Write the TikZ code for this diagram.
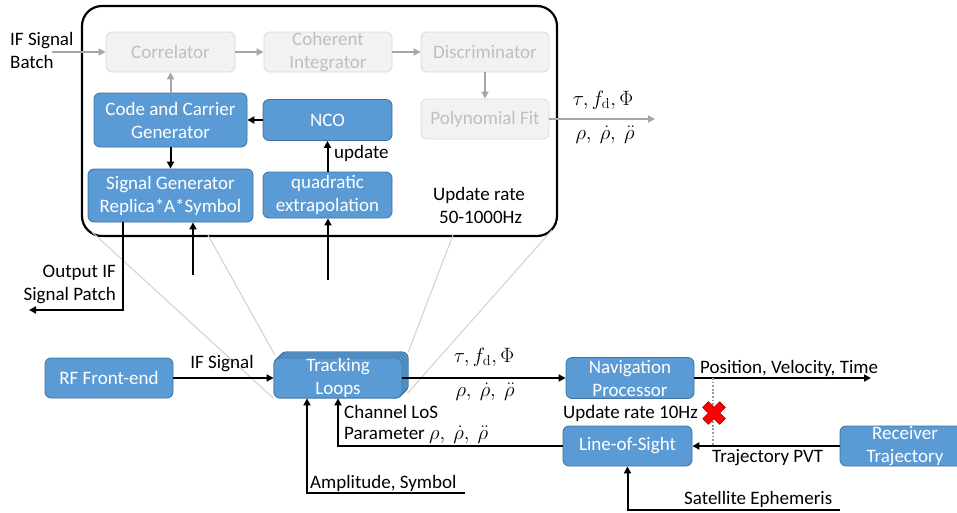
\documentclass[tikz,border=0pt]{standalone}
\usepackage[no-math]{fontspec}
\setmainfont{Carlito}
\usetikzlibrary{arrows.meta,calc}

\definecolor{boxblue}{HTML}{5B9BD5}
\definecolor{boxedge}{HTML}{41719C}
\definecolor{fadefill}{HTML}{F2F2F2}
\definecolor{fadeedge}{HTML}{D9D9D9}
\definecolor{fadetext}{HTML}{BFBFBF}
\definecolor{fadearrow}{HTML}{A6A6A6}
\definecolor{zoomline}{HTML}{D0D0D0}
\definecolor{dotgray}{HTML}{9A9A9A}
\definecolor{crossred}{HTML}{FF0000}
\definecolor{crossedge}{HTML}{8B0000}

\newcommand{\mathsz}{\fontsize{20.74}{24}\selectfont}

\tikzset{
  blk/.style={draw=boxedge, fill=boxblue, text=white, rounded corners=6pt,
    line width=0.8pt, inner sep=0pt, align=center},
  fadeblk/.style={draw=fadeedge, fill=fadefill, text=fadetext, rounded corners=6pt,
    line width=0.8pt, inner sep=0pt, align=center},
  barrow/.style={line width=2pt, draw=black, -{Triangle[length=7pt,width=7pt]}},
  garrow/.style={line width=2pt, draw=fadearrow, -{Triangle[length=7pt,width=7pt]}},
  zoomln/.style={line width=1pt, draw=zoomline},
  lbl/.style={inner sep=0pt, align=left},
  mathlbl/.style={inner sep=0pt, font=\mathsz},
}

\begin{document}
\begin{tikzpicture}[x=1pt, y=-1pt, font=\fontsize{19}{23}\selectfont]
\useasboundingbox (0,0) rectangle (957,512);

% frame of the tracking-loop detail
\node[draw=black, line width=2.2pt, rounded corners=20pt, inner sep=0pt,
      minimum width=475pt, minimum height=230pt] (detail) at (319.5,121) {};

% tracking loop stack (several channels)
\node[blk, minimum width=128pt, minimum height=40pt] (trk3) at (344,372) {};
\node[blk, minimum width=128pt, minimum height=40pt] (trk2) at (342,374) {};
\node[blk, minimum width=128pt, minimum height=40pt] (trk1) at (340,376) {};
\node[blk, minimum width=128pt, minimum height=40pt] (trk) at (338,378) {};

% zoom lines from the detail frame to the tracking loops
\coordinate (z1) at (92,232);
\coordinate (z2) at (208,235);
\coordinate (z3) at (453,235);
\coordinate (z4) at (552,230);
\draw[zoomln] (z1) -- (trk.south west);
\draw[zoomln] (z2) -- ($(trk.north west)+(1,-3)$);
\draw[zoomln] (z3) -- (trk3.north east);
\draw[zoomln] (z4) -- ($(trk.south east)+(5,-5)$);
% the stack drawn again over the zoom lines
\node[blk, minimum width=128pt, minimum height=40pt] at (trk3) {};
\node[blk, minimum width=128pt, minimum height=40pt] at (trk2) {};
\node[blk, minimum width=128pt, minimum height=40pt] at (trk1) {};
\node[blk, minimum width=128pt, minimum height=40pt] at (trk) {Tracking\\Loops};

% inner blocks of the detail
\node[fadeblk, minimum width=129pt, minimum height=40pt] (corr) at (170.5,52) {Correlator};
\node[fadeblk, minimum width=128pt, minimum height=40pt] (coh) at (328,52) {Coherent\\Integrator};
\node[fadeblk, minimum width=128pt, minimum height=40pt] (disc) at (485,52) {Discriminator};
\node[fadeblk, minimum width=128pt, minimum height=40pt] (poly) at (485,119) {Polynomial Fit};
\node[blk, minimum width=129pt, minimum height=41pt] (nco) at (327.5,120) {NCO};
\node[blk, minimum width=153pt, minimum height=54pt] (ccg) at (170.5,120) {Code and Carrier\\Generator};
\node[blk, minimum width=165pt, minimum height=53pt] (sig) at (170.5,195.5) {Signal Generator\\Replica*A*Symbol};
\node[blk, minimum width=129pt, minimum height=46pt] (quad) at (327.5,195) {quadratic\\extrapolation};

% receiver chain
\node[blk, minimum width=128pt, minimum height=40pt] (rf) at (109,378) {RF Front-end};
\node[blk, minimum width=128pt, minimum height=41pt] (nav) at (630,378) {Navigation\\Processor};
\node[blk, minimum width=129pt, minimum height=40pt] (los) at (627.5,446) {Line-of-Sight};
\node[blk, minimum width=130pt, minimum height=40pt] (rcv) at (905,446) {Receiver\\Trajectory};

% connectors inside the detail
\coordinate (batchin) at (52,52);
\draw[garrow] (batchin) -- (corr.west);
\draw[garrow] (corr.east) -- (coh.west);
\draw[garrow] (coh.east) -- (disc.west);
\draw[garrow] (disc.south) -- (poly.north);
\coordinate (polyout) at (655,119);
\draw[garrow] (poly.east) -- (polyout);
\draw[garrow] (ccg.north) -- (corr.south);
\draw[barrow] (nco.west) -- (ccg.east);
\draw[barrow] (ccg.south) -- (sig.north);
\draw[barrow] (quad.north) -- (nco.south);
\coordinate (sigin) at (193,275);
\draw[barrow] (sigin) -- (sigin |- sig.south);
\coordinate (quadin) at (328,280);
\draw[barrow] (quadin) -- (quadin |- quad.south);
\coordinate (outturn) at (123,310);
\coordinate (outend) at (29,310);
\draw[barrow] (outturn |- sig.south) -- (outturn) -- (outend);

% connectors of the receiver chain
\draw[barrow] (rf.east) -- (trk.west);
\draw[barrow] (trk.east) -- (nav.west);
\coordinate (pvtend) at (871,378);
\draw[barrow] (nav.east) -- (pvtend);
\draw[barrow] (rcv.west) -- (los.east);
\draw[barrow] (los.west) -| (trk.south);
\coordinate (ampstart) at (465,493);
\coordinate (ampturn) at (307,493);
\draw[barrow] (ampstart) -- (ampturn) -- (ampturn |- trk.south);
\coordinate (satstart) at (840,510);
\coordinate (satturn) at (627.5,510);
\draw[barrow] (satstart) -- (satturn) -- (los.south);

% disabled feedback of the navigation solution
\coordinate (fbtop) at (713,378);
\coordinate (fbbot) at (713,446);
\draw[line width=1.8pt, draw=dotgray, dash pattern=on 1.8pt off 1.8pt] (fbtop) -- (fbbot);
\node[inner sep=0pt, minimum size=1pt] (cross) at (714,413) {};
\begin{scope}[shift={(cross)}, rotate=45]
  \draw[fill=crossred, draw=crossedge, line width=0.5pt]
    (-4,-12) -- (4,-12) -- (4,-4) -- (12,-4) -- (12,4) -- (4,4) -- (4,12)
    -- (-4,12) -- (-4,4) -- (-12,4) -- (-12,-4) -- (-4,-4) -- cycle;
\end{scope}

% labels
\node[lbl, anchor=west] (lbatch) at (10,50) {IF Signal\\Batch};
\node[lbl, anchor=east, align=right] (lout) at (116,284) {Output IF\\Signal Patch};
\node[lbl, anchor=west] (lupd) at (334,153) {update};
\node[lbl, align=center] (lrate) at (479,205) {Update rate\\\,50-1000Hz};
\node[mathlbl] (lpolya) at (603,100) {$\tau, f_{\mathrm{d}}, \Phi$};
\node[mathlbl] (lpolyb) at (605,135) {$\rho,\ \dot\rho,\ \ddot\rho$};
\node[lbl] (lif) at (222,364) {IF Signal};
\node[mathlbl] (ltrka) at (484,357) {$\tau, f_{\mathrm{d}}, \Phi$};
\node[mathlbl] (ltrkb) at (485,392) {$\rho,\ \dot\rho,\ \ddot\rho$};
\node[lbl, anchor=west] (lpvt) at (700,368) {Position, Velocity, Time};
\node[lbl, anchor=east] (lrate2) at (698,413) {Update rate 10Hz};
\node[lbl, anchor=west] (ltraj) at (712,458) {Trajectory PVT};
\node[lbl, anchor=west] (lchan) at (344,412) {Channel LoS};
\node[lbl, anchor=west] (lpar) at (344,435) {Parameter {\mathsz$\rho,\ \dot\rho,\ \ddot\rho$}};
\node[lbl, anchor=west] (lamp) at (310,483) {Amplitude, Symbol};
\node[lbl, anchor=west] (lsat) at (684,499) {Satellite Ephemeris};
\end{tikzpicture}
\end{document}
